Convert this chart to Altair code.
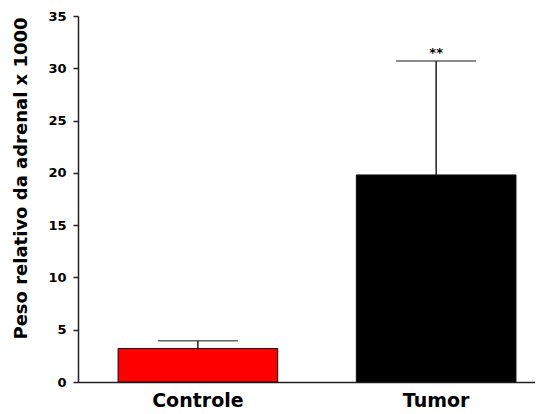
import altair as alt
import pandas as pd

groups = ["Controle", "Tumor"]
means = [3.2, 19.8]
errors = [0.75, 10.9]
colors = ["#ff0000", "#000000"]
marks = ["", "**"]

df = pd.DataFrame({
    "grupo": groups,
    "media": means,
    "erro": errors,
    "cor": colors,
    "sig": marks,
})
df["sup"] = df["media"] + df["erro"]

xscale = alt.Scale(domain=groups, paddingInner=0.33, paddingOuter=0.124, align=0.678)
yscale = alt.Scale(domain=[0, 35], nice=False)

x = alt.X("grupo:N", scale=xscale, sort=groups,
          axis=alt.Axis(title=None, labelAngle=0, ticks=False,
                        labelFont="DejaVu Sans", labelFontWeight="bold",
                        labelFontSize=19, labelColor="#000", labelPadding=9,
                        domainColor="#222", domainWidth=1.5))
ytitle = "Peso relativo da adrenal x 1000"

bars = alt.Chart(df).mark_bar(stroke="#111", strokeWidth=1).encode(
    x=x,
    y=alt.Y("media:Q", scale=yscale,
            axis=alt.Axis(title=ytitle, values=[0, 5, 10, 15, 20, 25, 30, 35],
                          grid=False, tickSize=5, tickColor="#222", tickWidth=1.5,
                          domainColor="#222", domainWidth=1.5,
                          labelFont="DejaVu Sans", labelFontWeight="bold",
                          labelFontSize=13, labelColor="#000", labelPadding=7,
                          titleFont="DejaVu Sans", titleFontWeight="bold",
                          titleFontSize=18, titleColor="#000",
                          titleX=-57, titleY=162, titleAlign="center",
                          titleBaseline="middle")),
    color=alt.Color("cor:N", scale=None),
)

err_line = alt.Chart(df).mark_rule(color="#222", strokeWidth=1.5).encode(
    x=alt.X("grupo:N", scale=xscale, sort=groups),
    y=alt.Y("media:Q", scale=yscale),
    y2="sup:Q",
)

err_cap = alt.Chart(df).mark_tick(color="#222", thickness=1.5, size=80).encode(
    x=alt.X("grupo:N", scale=xscale, sort=groups),
    y=alt.Y("sup:Q", scale=yscale),
)

sig_text = alt.Chart(df).mark_text(font="DejaVu Sans", fontWeight="bold",
                                   fontSize=13, color="#000", dy=-1,
                                   baseline="bottom").encode(
    x=alt.X("grupo:N", scale=xscale, sort=groups),
    y=alt.Y("sup:Q", scale=yscale),
    text="sig:N",
)

chart = alt.layer(bars, err_line, err_cap, sig_text).properties(
    width=457, height=366,
    autosize=alt.AutoSizeParams(type="none"),
    padding={"left": 70, "top": 8, "right": 0, "bottom": 32},
).configure(background="white").configure_view(stroke=None)

chart.save("out.html", embed_options={"renderer": "svg", "actions": False})
